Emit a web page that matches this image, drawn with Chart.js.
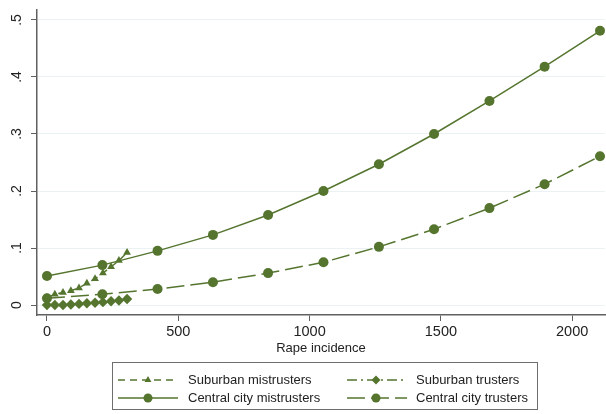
<!DOCTYPE html>
<html>
<head>
<meta charset="utf-8">
<script src="https://cdn.jsdelivr.net/npm/chart.js@4.4.1/dist/chart.umd.min.js"></script>
<style>
  html, body { margin: 0; padding: 0; background: #ffffff; }
  #wrap { width: 606px; height: 414px; }
</style>
</head>
<body>
<div id="wrap"><canvas id="c" width="606" height="414"></canvas></div>
<script>
// Rape incidence values at which each group is evaluated
const suburbX = [0, 30, 61, 91, 122, 152, 183, 213, 244, 274, 305];
const cityX = [0, 211, 421, 632, 842, 1053, 1264, 1474, 1685, 1895, 2106];

// Predicted probabilities for each group
const suburbMistrust = [0.013, 0.019, 0.022, 0.025, 0.030, 0.038, 0.046, 0.056, 0.067, 0.078, 0.092];
const suburbTrust = [0.000, 0.000, 0.000, 0.001, 0.002, 0.003, 0.004, 0.005, 0.0065, 0.008, 0.0105];
const cityMistrust = [0.051, 0.070, 0.095, 0.123, 0.158, 0.200, 0.247, 0.300, 0.358, 0.418, 0.481];
const cityTrust = [0.012, 0.019, 0.028, 0.040, 0.056, 0.075, 0.102, 0.133, 0.170, 0.212, 0.261];

const seriesNames = ['Suburban mistrusters', 'Suburban trusters', 'Central city mistrusters', 'Central city trusters'];
const xTicks = [0, 500, 1000, 1500, 2000];
const yTicks = [0, 0.1, 0.2, 0.3, 0.4, 0.5];
const yTickLabels = ['0', '.1', '.2', '.3', '.4', '.5'];

const GREEN = 'rgb(85,117,47)';
const AXIS = '#606060';
const GRID = 'rgb(234,242,243)';
const FONT = '"Liberation Sans", Arial, Helvetica, sans-serif';

const pairs = (xs, ys) => xs.map((x, i) => ({ x: x, y: ys[i] }));

function series(label, xs, ys, dash, pointStyle, radius) {
  return {
    label: label,
    data: pairs(xs, ys),
    borderColor: GREEN,
    backgroundColor: GREEN,
    borderWidth: 1.5,
    borderDash: dash,
    pointStyle: pointStyle,
    pointRadius: radius,
    pointBorderWidth: 0,
    pointHoverRadius: radius,
    tension: 0,
    fill: false,
    clip: false
  };
}

const datasets = [
  series(seriesNames[0], suburbX, suburbMistrust, [7, 5], 'triangle', 4.5),
  series(seriesNames[1], suburbX, suburbTrust, [10, 4, 2, 4], 'rectRot', 5.2),
  series(seriesNames[2], cityX, cityMistrust, [], 'circle', 5),
  series(seriesNames[3], cityX, cityTrust, [18, 6], 'circle', 5)
];

// Vertical y tick labels plus a boxed two-column key underneath
const decorations = {
  id: 'decorations',
  afterDraw(chart) {
    const ctx = chart.ctx;
    const y = chart.scales.y;
    ctx.save();
    ctx.fillStyle = '#222';
    ctx.font = '14px ' + FONT;
    ctx.textAlign = 'center';
    ctx.textBaseline = 'middle';
    yTicks.forEach((v, i) => {
      const py = y.getPixelForValue(v);
      ctx.save();
      ctx.translate(17.5, py);
      ctx.rotate(-Math.PI / 2);
      ctx.fillText(yTickLabels[i], 0, 0);
      ctx.restore();
    });

    // key box
    const bx = 112.5, by = 362.5, bw = 425, bh = 47;
    ctx.strokeStyle = '#6e6e6e';
    ctx.lineWidth = 1;
    ctx.strokeRect(bx, by, bw, bh);

    const cols = [{ l0: 118, l1: 178, m: 148, t: 188 }, { l0: 347, l1: 407, m: 376, t: 416 }];
    const rows = [380, 398];
    const order = [[0, 1], [2, 3]];
    order.forEach((row, ri) => {
      row.forEach((di, ci) => {
        const ds = chart.data.datasets[di];
        const c = cols[ci];
        const ry = rows[ri];
        ctx.save();
        ctx.strokeStyle = ds.borderColor;
        ctx.lineWidth = ds.borderWidth;
        ctx.setLineDash(ds.borderDash);
        ctx.beginPath();
        ctx.moveTo(c.l0, ry);
        ctx.lineTo(c.l1, ry);
        ctx.stroke();
        ctx.restore();
        ctx.save();
        ctx.fillStyle = ds.backgroundColor;
        ctx.strokeStyle = ds.borderColor;
        Chart.helpers.drawPoint(ctx, {
          pointStyle: ds.pointStyle,
          radius: ds.pointStyle === 'triangle' ? 4 : 4.5,
          borderWidth: 0,
          rotation: 0
        }, c.m, ry);
        ctx.restore();
        ctx.fillStyle = '#222';
        ctx.font = '13px ' + FONT;
        ctx.textAlign = 'left';
        ctx.textBaseline = 'middle';
        ctx.fillText(ds.label, c.t, ry);
      });
    });
    ctx.restore();
  }
};

new Chart(document.getElementById('c'), {
  type: 'line',
  data: { datasets: datasets },
  plugins: [decorations],
  options: {
    responsive: false,
    animation: false,
    events: [],
    layout: { autoPadding: false, padding: { left: 0, right: 1, top: 10, bottom: 54 } },
    plugins: { legend: { display: false }, tooltip: { enabled: false } },
    scales: {
      x: {
        type: 'linear',
        min: -38,
        max: 2125,
        afterBuildTicks: s => { s.ticks = xTicks.map(v => ({ value: v })); },
        afterFit: s => { s.height = 45; },
        border: { display: true, color: AXIS, width: 1.5 },
        grid: { drawOnChartArea: false, drawTicks: true, tickLength: 6, tickColor: AXIS, lineWidth: 1 },
        ticks: {
          color: '#222', font: { family: FONT, size: 14.5 }, padding: 2, maxRotation: 0, minRotation: 0,
          callback: v => String(v)
        },
        title: { display: true, text: 'Rape incidence', color: '#222', font: { family: FONT, size: 13 }, padding: { top: 0, bottom: 4 } }
      },
      y: {
        type: 'linear',
        min: -0.0175,
        max: 0.5175,
        afterBuildTicks: s => { s.ticks = yTicks.map(v => ({ value: v })); },
        afterFit: s => { s.width = 37; },
        border: { display: true, color: AXIS, width: 1.5 },
        grid: { color: GRID, lineWidth: 1, drawTicks: true, tickLength: 6, tickColor: AXIS },
        ticks: { display: false }
      }
    }
  }
});
</script>
</body>
</html>
